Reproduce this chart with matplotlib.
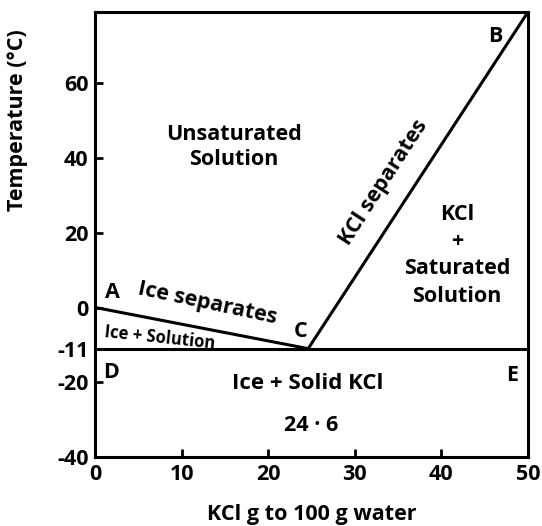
import matplotlib.pyplot as plt

plt.rcParams['font.family'] = ['Open Sans', 'DejaVu Sans']
plt.rcParams['font.weight'] = 'bold'
plt.rcParams['axes.unicode_minus'] = False

# phase boundary points (KCl g per 100 g water, temperature in C)
ice_line_x = [0, 24.6]
ice_line_y = [0, -11]
kcl_line_x = [24.6, 50]
kcl_line_y = [-11, 79]
eutectic_x = [0, 50]
eutectic_y = [-11, -11]

xticks = [0, 10, 20, 30, 40, 50]
yticks = [-40, -20, -11, 0, 20, 40, 60]

fig = plt.figure(figsize=(5.42, 5.26), dpi=100)
ax = fig.add_axes([0.176, 0.131, 0.798, 0.846])

lw = 2.2
ax.plot(ice_line_x, ice_line_y, color='black', lw=lw)
ax.plot(kcl_line_x, kcl_line_y, color='black', lw=lw)
ax.plot(eutectic_x, eutectic_y, color='black', lw=lw)

ax.set_xlim(0, 50)
ax.set_ylim(-40, 79)
ax.set_xticks(xticks)
ax.set_yticks(yticks)
ax.tick_params(direction='in', length=6, width=2, labelsize=15.5, pad=5)
for lab in ax.get_xticklabels() + ax.get_yticklabels():
    lab.set_fontweight('bold')
for s in ax.spines.values():
    s.set_linewidth(2.2)

ax.set_xlabel('KCl g to 100 g water', fontsize=15.5, fontweight='bold', labelpad=14)
fig.text(0.033, 0.772, 'Temperature (°C)', rotation=90, ha='center', va='center',
         fontsize=15.5, fontweight='bold')

fs = 15.5
ax.text(16.0, 43.0, 'Unsaturated\nSolution', ha='center', va='center', fontsize=fs,
        fontweight='bold', linespacing=1.25)
ax.text(41.8, 14.0, 'KCl\n+\nSaturated\nSolution', ha='center', va='center', fontsize=fs,
        fontweight='bold', linespacing=1.4)
ax.text(33.3, 33.5, 'KCl separates', ha='center', va='center', fontsize=fs,
        fontweight='bold', rotation=57, rotation_mode='anchor')
ax.text(12.9, 1.2, 'Ice separates', ha='center', va='center', fontsize=fs,
        fontweight='bold', rotation=-12, rotation_mode='anchor')
ax.text(7.5, -8.0, 'Ice + Solution', ha='center', va='center', fontsize=12,
        fontweight='bold', rotation=-6, rotation_mode='anchor')
ax.text(24.5, -20.3, 'Ice + Solid KCl', ha='center', va='center', fontsize=16,
        fontweight='bold')
ax.text(24.9, -31.5, '24 · 6', ha='center', va='center', fontsize=fs, fontweight='bold')

for lbl, x, y in [('A', 2.0, 4.0), ('C', 23.7, -6.5), ('B', 46.2, 72.5),
                  ('D', 1.8, -17.3), ('E', 48.2, -18.1)]:
    ax.text(x, y, lbl, ha='center', va='center', fontsize=fs, fontweight='bold')

fig.savefig('out.png', dpi=100)
